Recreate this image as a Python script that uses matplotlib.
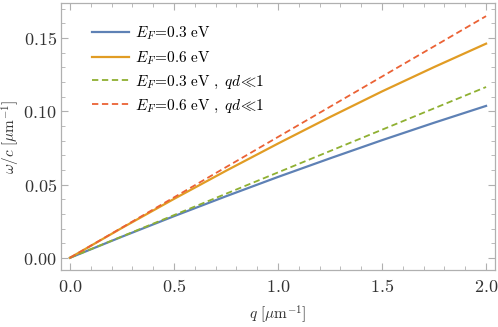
import matplotlib
matplotlib.use('Agg')
import matplotlib.pyplot as plt
from matplotlib.ticker import MultipleLocator, FuncFormatter

# Данные.
q = [0.0, 0.25, 0.5, 0.75, 1.0, 1.25, 1.5, 1.75, 2.0]
w_03 = [0.0, 0.0144, 0.0284, 0.0420, 0.0552, 0.0679, 0.0803, 0.0922, 0.1037]
w_06 = [0.0, 0.0204, 0.0402, 0.0594, 0.0780, 0.0961, 0.1136, 0.1302, 0.1462]
q_lin = [0.0, 1.0, 2.0]
w_03_lin = [0.0, 0.0583, 0.1166]
w_06_lin = [0.0, 0.0825, 0.1650]

labels = [r'$E_F\!=\!0.3\ \mathrm{eV}$',
          r'$E_F\!=\!0.6\ \mathrm{eV}$',
          r'$E_F\!=\!0.3\ \mathrm{eV}\ ,\ qd\!\ll\!1$',
          r'$E_F\!=\!0.6\ \mathrm{eV}\ ,\ qd\!\ll\!1$']

plt.rcParams['mathtext.fontset'] = 'cm'
plt.rcParams['font.family'] = 'serif'

fig = plt.figure(figsize=(4.98, 3.27), dpi=100)
ax = fig.add_axes([0.1225, 0.174, 0.8715, 0.817])

ax.plot(q, w_03, color='#5E81B5', lw=1.6, label=labels[0])
ax.plot(q, w_06, color='#E19C24', lw=1.6, label=labels[1])
ax.plot(q_lin, w_03_lin, color='#8FB032', lw=1.3, ls=(0, (3.5, 2)), label=labels[2])
ax.plot(q_lin, w_06_lin, color='#EB6235', lw=1.3, ls=(0, (3.5, 2)), label=labels[3])

ax.set_xlim(-0.043, 2.043)
ax.set_ylim(-0.0084, 0.174)

ax.xaxis.set_major_locator(MultipleLocator(0.5))
ax.xaxis.set_minor_locator(MultipleLocator(0.1))
ax.yaxis.set_major_locator(MultipleLocator(0.05))
ax.yaxis.set_minor_locator(MultipleLocator(0.01))
ax.xaxis.set_major_formatter(FuncFormatter(lambda v, p: '$%.1f$' % v))
ax.yaxis.set_major_formatter(FuncFormatter(lambda v, p: '$%.2f$' % v))

frame = '#b0b0b0'
for s in ax.spines.values():
    s.set_color(frame)
    s.set_linewidth(0.9)
ax.tick_params(which='both', direction='in', top=True, right=True, color=frame,
               labelcolor='#333333', labelsize=13)
ax.tick_params(which='major', length=5, width=0.8)
ax.tick_params(which='minor', length=2.8, width=0.6)
ax.tick_params(axis='y', which='major', pad=3)
ax.tick_params(axis='x', which='major', pad=6)

ax.set_xlabel(r'$q\ [\mu\mathrm{m}^{-1}]$', fontsize=11, color='#333333', labelpad=5)
ax.set_ylabel(r'$\omega/c\ [\mu\mathrm{m}^{-1}]$', fontsize=11, color='#333333')
ax.yaxis.set_label_coords(-0.09, 0.5)

ax.legend(loc='upper left', bbox_to_anchor=(0.04, 0.97), frameon=False, fontsize=11,
          handlelength=2.4, handletextpad=0.4, labelspacing=0.45)

fig.savefig('out.png', dpi=100)
